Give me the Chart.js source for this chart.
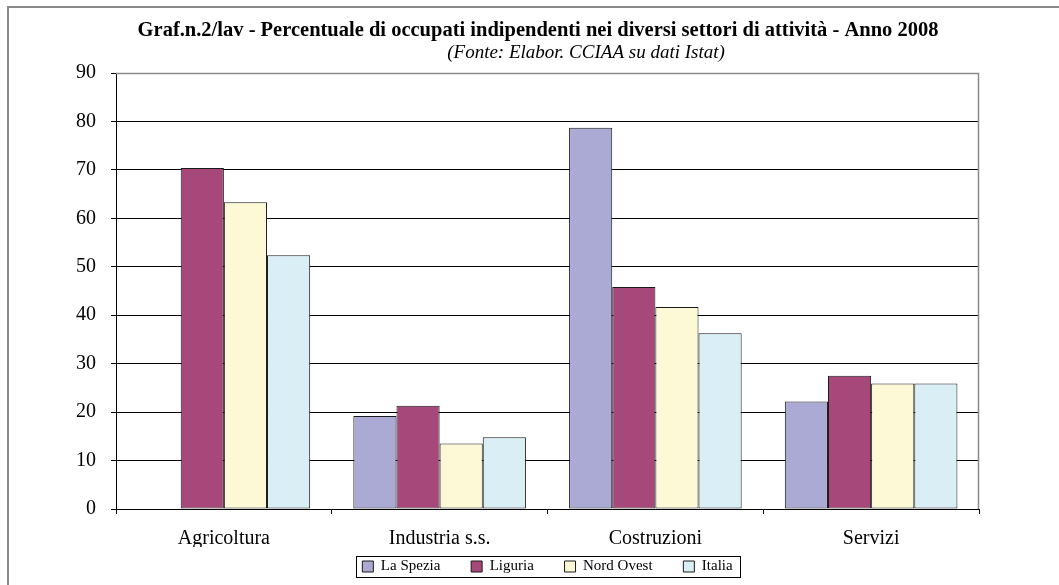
<!DOCTYPE html>
<html>
<head>
<meta charset="utf-8">
<script src="https://cdn.jsdelivr.net/npm/chart.js@4.4.1/dist/chart.umd.min.js"></script>
<style>
  html, body { margin: 0; padding: 0; background: #fff; }
  #wrap { position: relative; width: 1059px; height: 585px; }
</style>
</head>
<body>
<div id="wrap"><canvas id="chart" width="1059" height="585"></canvas></div>
<script>
const titleText = 'Graf.n.2/lav - Percentuale di occupati indipendenti nei diversi settori di attività - Anno 2008';
const subtitleText = '(Fonte: Elabor. CCIAA su dati Istat)';

const sectors = ['Agricoltura', 'Industria s.s.', 'Costruzioni', 'Servizi'];
const laSpezia = [null, 19.2, 78.7, 22.2];
const liguria = [70.4, 21.3, 45.8, 27.5];
const nordOvest = [63.3, 13.5, 41.7, 25.9];
const italia = [52.4, 14.8, 36.3, 25.9];

const serif = 'Liberation Serif';

// frame, titles, plot box and legend border
const decor = {
  id: 'decor',
  beforeDatasetsDraw(chart) {
    const { ctx, chartArea: a } = chart;
    ctx.save();
    ctx.strokeStyle = '#8a8a8a';
    ctx.lineWidth = 1.5;
    ctx.beginPath();
    ctx.moveTo(a.left, a.top + 0.5);
    ctx.lineTo(a.right - 0.5, a.top + 0.5);
    ctx.lineTo(a.right - 0.5, a.bottom);
    ctx.stroke();
    ctx.restore();
  },
  afterDraw(chart) {
    const { ctx } = chart;
    ctx.save();
    ctx.strokeStyle = '#8a8a8a';
    ctx.lineWidth = 2;
    ctx.strokeRect(8, 7, 1200, 700);

    ctx.fillStyle = '#000';
    ctx.textAlign = 'center';
    ctx.textBaseline = 'middle';
    ctx.font = 'bold 20.5px ' + serif;
    ctx.fillText(titleText, 538, 31);
    ctx.font = 'italic 19px ' + serif;
    ctx.fillText(subtitleText, 586, 53);

    const lg = chart.legend;
    if (lg && lg.legendHitBoxes.length) {
      const boxes = lg.legendHitBoxes;
      const first = boxes[0];
      const last = boxes[boxes.length - 1];
      const x0 = first.left - 6;
      const x1 = last.left + last.width + 8;
      const yMid = first.top + first.height / 2;
      ctx.strokeStyle = '#000';
      ctx.lineWidth = 1;
      ctx.strokeRect(Math.round(x0) + 0.5, Math.round(yMid - 11) + 0.5, Math.round(x1 - x0), 21);
    }
    ctx.restore();
  }
};

const barStyle = { borderWidth: 1, borderColor: '#1a1a1a', borderSkipped: false };

new Chart(document.getElementById('chart'), {
  type: 'bar',
  data: {
    labels: sectors,
    datasets: [
      { label: 'La Spezia', data: laSpezia, backgroundColor: '#aaaad5', ...barStyle },
      { label: 'Liguria', data: liguria, backgroundColor: '#a7487a', ...barStyle },
      { label: 'Nord Ovest', data: nordOvest, backgroundColor: '#fdf9d6', ...barStyle },
      { label: 'Italia', data: italia, backgroundColor: '#d9eef5', ...barStyle }
    ]
  },
  options: {
    responsive: false,
    animation: false,
    devicePixelRatio: 1,
    categoryPercentage: 0.8,
    barPercentage: 1,
    layout: { padding: { top: 73, right: 80, left: 0, bottom: 1 } },
    plugins: {
      title: { display: false },
      tooltip: { enabled: false },
      legend: {
        position: 'bottom',
        fullSize: false,
        labels: {
          boxWidth: 11,
          boxHeight: 11,
          padding: 12,
          color: '#000',
          font: { family: serif, size: 15, lineHeight: 1 },
          generateLabels(chart) {
            const items = Chart.defaults.plugins.legend.labels.generateLabels(chart);
            items.forEach((item, i) => {
              if (i < items.length - 1) item.text += '\u2002\u2002 ';
            });
            return items;
          }
        }
      }
    },
    scales: {
      x: {
        grid: { drawOnChartArea: false, color: '#000', tickLength: 5, offset: true },
        border: { color: '#000', width: 1 },
        ticks: { color: '#000', padding: 13, font: { family: serif, size: 20 } },
        afterFit(scale) { scale.height = 38; }
      },
      y: {
        min: 0,
        max: 90,
        ticks: { stepSize: 10, color: '#000', padding: 15, font: { family: serif, size: 20 } },
        grid: { color: '#000', lineWidth: 1, tickLength: 5 },
        border: { color: '#000', width: 1 },
        afterFit(scale) { scale.width = 116; }
      }
    }
  },
  plugins: [decor]
});
</script>
</body>
</html>
